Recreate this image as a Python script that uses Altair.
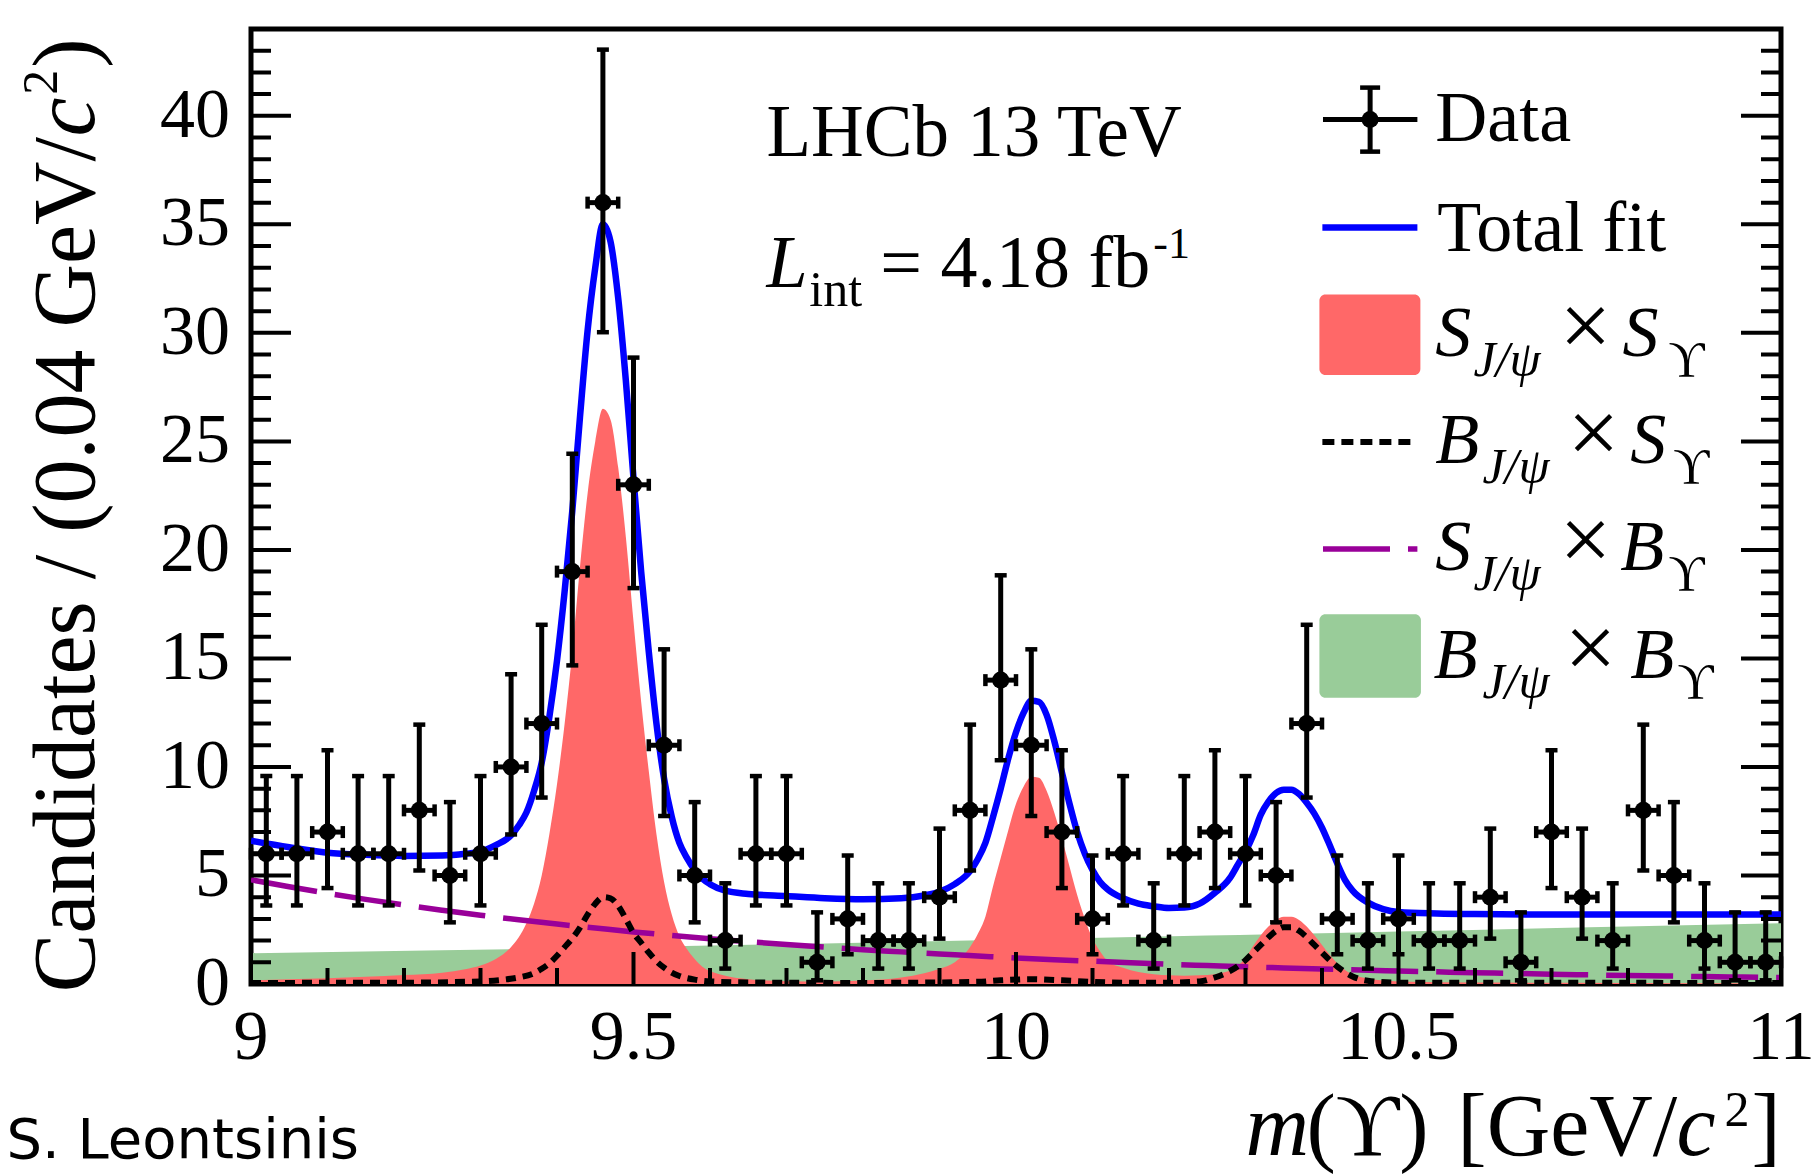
import altair as alt
import pandas as pd

# ---------------- chart values ----------------
BIN_START = 9.0
BIN_WIDTH = 0.04
counts = [6, 6, 7, 6, 6, 8, 5, 6, 10, 12,
          19, 36, 23, 11, 5, 2, 6, 6, 1, 3,
          2, 2, 4, 8, 14, 11, 7, 3, 6, 2,
          6, 7, 6, 5, 12, 3, 2, 3, 2, 2,
          4, 1, 7, 4, 2, 8, 5, 2, 1, 1]
err_low = [3.62, 3.62, 4.42, 3.62, 3.62, 5.23, 2.84, 3.62, 6.89, 8.59,
           14.68, 30.03, 18.24, 7.74, 2.84, 0.71, 3.62, 3.62, 0.17, 1.37,
           0.71, 0.71, 2.09, 5.23, 10.31, 7.74, 4.42, 1.37, 3.62, 0.71,
           3.62, 4.42, 3.62, 2.84, 8.59, 1.37, 0.71, 1.37, 0.71, 0.71,
           2.09, 0.17, 4.42, 2.09, 0.71, 5.23, 2.84, 0.71, 0.17, 0.17]
err_high = [9.58, 9.58, 10.77, 9.58, 9.58, 11.95, 8.38, 9.58, 14.27, 16.55,
            24.43, 43.05, 28.86, 15.42, 8.38, 4.64, 9.58, 9.58, 3.30, 5.92,
            4.64, 4.64, 7.16, 11.95, 18.83, 15.42, 10.77, 5.92, 9.58, 4.64,
            9.58, 10.77, 9.58, 8.38, 16.55, 5.92, 4.64, 5.92, 4.64, 4.64,
            7.16, 3.30, 10.77, 7.16, 4.64, 11.95, 8.38, 4.64, 3.30, 3.30]

total_x = [9.00, 9.05, 9.10, 9.15, 9.20, 9.25, 9.28, 9.30, 9.32, 9.34,
           9.35, 9.36, 9.37, 9.38, 9.39, 9.40, 9.41, 9.42, 9.43, 9.44,
           9.45, 9.46, 9.47, 9.48, 9.49, 9.50, 9.51, 9.52, 9.53, 9.54,
           9.55, 9.56, 9.57, 9.58, 9.59, 9.60, 9.62, 9.65, 9.70, 9.75,
           9.80, 9.85, 9.88, 9.90, 9.92, 9.94, 9.95, 9.96, 9.97, 9.98,
           9.99, 10.00, 10.01, 10.02, 10.03, 10.04, 10.05, 10.06, 10.07, 10.08,
           10.09, 10.10, 10.11, 10.12, 10.14, 10.16, 10.18, 10.20, 10.22, 10.24,
           10.26, 10.28, 10.29, 10.30, 10.31, 10.32, 10.33, 10.34, 10.35, 10.36,
           10.37, 10.38, 10.39, 10.40, 10.41, 10.42, 10.43, 10.44, 10.46, 10.48,
           10.50, 10.55, 10.60, 10.70, 10.80, 10.90, 11.00]
total_y = [6.6, 6.3, 6.05, 5.95, 5.9, 5.92, 6.0, 6.1, 6.4, 6.85,
           7.3, 7.9, 8.9, 10.2, 12.3, 14.9, 18.1, 21.8, 26.1, 30.1,
           33.0, 35.0, 34.2, 31.6, 27.8, 23.3, 19.0, 15.3, 12.0, 9.45,
           7.7, 6.5, 5.8, 5.25, 4.85, 4.6, 4.3, 4.15, 4.05, 3.95,
           3.9, 3.95, 4.08, 4.25, 4.6, 5.2, 5.75, 6.5, 7.7, 9.0,
           10.4, 11.6, 12.5, 13.05, 13.0, 12.4, 11.2, 9.75, 8.3, 7.0,
           6.0, 5.25, 4.7, 4.35, 3.95, 3.7, 3.58, 3.5, 3.52, 3.7,
           4.2, 4.9, 5.5, 6.1, 6.85, 7.8, 8.4, 8.8, 8.95, 8.95,
           8.75, 8.35, 7.85, 7.2, 6.4, 5.55, 4.8, 4.3, 3.75, 3.45,
           3.32, 3.25, 3.22, 3.2, 3.2, 3.2, 3.2]

ss_x = [9.00, 9.05, 9.10, 9.15, 9.20, 9.25, 9.28, 9.30, 9.32, 9.34,
        9.35, 9.36, 9.37, 9.38, 9.39, 9.40, 9.41, 9.42, 9.43, 9.44,
        9.45, 9.46, 9.47, 9.48, 9.49, 9.50, 9.51, 9.52, 9.53, 9.54,
        9.55, 9.56, 9.57, 9.58, 9.59, 9.60, 9.62, 9.65, 9.70, 9.75,
        9.80, 9.85, 9.88, 9.90, 9.92, 9.94, 9.95, 9.96, 9.97, 9.98,
        9.99, 10.00, 10.01, 10.02, 10.03, 10.04, 10.05, 10.06, 10.07, 10.08,
        10.09, 10.10, 10.11, 10.12, 10.14, 10.16, 10.18, 10.20, 10.22, 10.24,
        10.26, 10.27, 10.28, 10.29, 10.30, 10.31, 10.32, 10.33, 10.34, 10.35,
        10.36, 10.37, 10.38, 10.39, 10.40, 10.41, 10.42, 10.43, 10.44, 10.46,
        10.50, 10.60, 10.80, 11.00]
ss_y = [0.17, 0.22, 0.27, 0.33, 0.41, 0.52, 0.68, 0.85, 1.15, 1.7,
        2.15, 2.8, 3.7, 5.0, 6.9, 9.2, 12.0, 15.3, 19.2, 22.6,
        25.0, 26.5, 26.0, 23.8, 20.6, 16.7, 13.0, 9.8, 6.9, 4.7,
        3.2, 2.2, 1.6, 1.15, 0.8, 0.6, 0.38, 0.22, 0.13, 0.12,
        0.16, 0.3, 0.5, 0.7, 1.0, 1.7, 2.3, 3.1, 4.5, 5.8,
        7.1, 8.3, 9.1, 9.55, 9.5, 8.9, 7.9, 6.7, 5.4, 4.1,
        3.0, 2.1, 1.5, 1.05, 0.75, 0.55, 0.45, 0.4, 0.38, 0.4,
        0.45, 0.52, 0.62, 0.85, 1.2, 1.75, 2.25, 2.65, 2.95, 3.1,
        3.1, 2.95, 2.65, 2.25, 1.8, 1.35, 0.95, 0.65, 0.45, 0.25,
        0.12, 0.07, 0.05, 0.04]

bs_x = [9.00, 9.20, 9.30, 9.33, 9.35, 9.37, 9.38, 9.39, 9.40, 9.41,
        9.42, 9.43, 9.44, 9.45, 9.46, 9.47, 9.48, 9.49, 9.50, 9.51,
        9.52, 9.53, 9.54, 9.55, 9.56, 9.58, 9.60, 9.65, 9.80, 9.95,
        9.98, 10.02, 10.06, 10.10, 10.15, 10.20, 10.24, 10.26, 10.28, 10.30,
        10.31, 10.32, 10.33, 10.34, 10.35, 10.36, 10.37, 10.38, 10.39, 10.40,
        10.41, 10.42, 10.44, 10.46, 10.50, 11.00]
bs_y = [0.05, 0.06, 0.12, 0.2, 0.3, 0.5, 0.7, 0.95, 1.3, 1.7,
        2.1, 2.6, 3.2, 3.7, 4.0, 3.95, 3.6, 3.0, 2.35, 1.9,
        1.45, 1.05, 0.75, 0.52, 0.37, 0.2, 0.12, 0.07, 0.05, 0.1,
        0.17, 0.22, 0.17, 0.1, 0.06, 0.06, 0.12, 0.3, 0.6, 1.1,
        1.45, 1.8, 2.15, 2.45, 2.62, 2.62, 2.45, 2.15, 1.8, 1.45,
        1.1, 0.8, 0.35, 0.15, 0.06, 0.05]

sb_x = [9.00, 9.05, 9.10, 9.15, 9.20, 9.25, 9.30, 9.35, 9.40, 9.45,
        9.50, 9.55, 9.60, 9.65, 9.70, 9.75, 9.80, 9.85, 9.90, 9.95,
        10.00, 10.05, 10.10, 10.15, 10.20, 10.25, 10.30, 10.35, 10.40, 10.45,
        10.50, 10.55, 10.60, 10.65, 10.70, 10.75, 10.80, 10.85, 10.90, 10.95,
        11.00]
sb_y = [4.80, 4.48, 4.18, 3.90, 3.64, 3.40, 3.17, 2.96, 2.76, 2.58,
        2.40, 2.24, 2.09, 1.95, 1.82, 1.70, 1.58, 1.48, 1.38, 1.29,
        1.20, 1.12, 1.05, 0.98, 0.91, 0.85, 0.79, 0.74, 0.69, 0.64,
        0.60, 0.56, 0.52, 0.49, 0.45, 0.42, 0.39, 0.37, 0.34, 0.32,
        0.30]

bb_x = [9.00, 9.25, 9.50, 9.75, 10.00, 10.25, 10.50, 10.75, 11.00]
bb_y = [1.42, 1.55, 1.70, 1.87, 2.05, 2.23, 2.42, 2.61, 2.80]

x_tick_labels = [9, 9.5, 10, 10.5, 11]
x_tick_text = ["9", "9.5", "10", "10.5", "11"]
x_minor_ticks = [9.1, 9.2, 9.3, 9.4, 9.6, 9.7, 9.8, 9.9, 10.1, 10.2, 10.3, 10.4,
                 10.6, 10.7, 10.8, 10.9]
y_tick_labels = [0, 5, 10, 15, 20, 25, 30, 35, 40]
y_minor_ticks = [v for v in range(1, 44) if v % 5 != 0]

# ---------------- styles ----------------
SERIF = "Liberation Serif, Times New Roman, DejaVu Serif, serif"
BLUE = "#0000ff"
RED = "#ff6868"
GREEN = "#99cc99"
PURPLE = "#990099"
LBL = 70

assert len(total_x) == len(total_y)
assert len(ss_x) == len(ss_y)
assert len(bs_x) == len(bs_y)
assert len(sb_x) == len(sb_y)

xs = alt.Scale(domain=[9, 11], nice=False, zero=False)
ys = alt.Scale(domain=[0, 44], nice=False, zero=False)


def X(f):
    return alt.X(f, type="quantitative", scale=xs, axis=None)


def Y(f):
    return alt.Y(f, type="quantitative", scale=ys, axis=None)


centers = [round(BIN_START + BIN_WIDTH * (i + 0.5), 4) for i in range(len(counts))]
pts = pd.DataFrame({"x": centers, "n": counts, "lo": err_low, "hi": err_high})
pts["xl"] = pts["x"] - BIN_WIDTH / 2
pts["xh"] = pts["x"] + BIN_WIDTH / 2

layers = []

# B x B (green area)
layers.append(
    alt.Chart(pd.DataFrame({"x": bb_x, "y": bb_y}))
    .mark_area(color=GREEN, interpolate="monotone", clip=True)
    .encode(x=X("x"), y=Y("y"))
)
# S x S (red area)
layers.append(
    alt.Chart(pd.DataFrame({"x": ss_x, "y": ss_y}))
    .mark_area(color=RED, interpolate="monotone", clip=True)
    .encode(x=X("x"), y=Y("y"))
)
# S x B (purple dashed)
layers.append(
    alt.Chart(pd.DataFrame({"x": sb_x, "y": sb_y}))
    .mark_line(color=PURPLE, strokeWidth=5.5, strokeDash=[67, 18], interpolate="monotone", clip=True)
    .encode(x=X("x"), y=Y("y"))
)
# B x S (black dotted)
layers.append(
    alt.Chart(pd.DataFrame({"x": bs_x, "y": bs_y}))
    .mark_line(color="black", strokeWidth=6, strokeDash=[10, 7], interpolate="monotone", clip=True)
    .encode(x=X("x"), y=Y("y"))
)
# Total fit (blue)
layers.append(
    alt.Chart(pd.DataFrame({"x": total_x, "y": total_y}))
    .mark_line(color=BLUE, strokeWidth=6.5, interpolate="monotone", clip=True)
    .encode(x=X("x"), y=Y("y"))
)

# ---------- inner ticks (ROOT style) ----------
ytick_major = pd.DataFrame([{"x": e, "v": v} for e in (9, 11) for v in y_tick_labels])
ytick_minor = pd.DataFrame([{"x": e, "v": v} for e in (9, 11) for v in y_minor_ticks])
xtick_major = pd.DataFrame({"x": x_tick_labels, "v": 0})
xtick_minor = pd.DataFrame({"x": x_minor_ticks, "v": 0})
for df, size, orient in [(ytick_major, 80, "horizontal"), (ytick_minor, 40, "horizontal"),
                         (xtick_major, 64, "vertical"), (xtick_minor, 32, "vertical")]:
    layers.append(
        alt.Chart(df).mark_tick(orient=orient, size=size, thickness=4, color="black",
                                opacity=1, clip=True)
        .encode(x=X("x"), y=Y("v"))
    )

# ---------- tick labels ----------
layers.append(
    alt.Chart(pd.DataFrame({"x": x_tick_labels, "v": 0, "t": x_tick_text}))
    .mark_text(font=SERIF, fontSize=LBL, align="center", baseline="top", dy=20, color="black")
    .encode(x=X("x"), y=Y("v"), text="t:N")
)
layers.append(
    alt.Chart(pd.DataFrame({"x": 9, "v": y_tick_labels, "t": [str(v) for v in y_tick_labels]}))
    .mark_text(font=SERIF, fontSize=LBL, align="right", baseline="middle", dx=-21, color="black")
    .encode(x=X("x"), y=Y("v"), text="t:N")
)

# ---------- data points with error bars ----------
base = alt.Chart(pts)
layers.append(base.mark_rule(color="black", strokeWidth=5).encode(x=X("x"), y=Y("lo"), y2="hi"))
layers.append(base.mark_rule(color="black", strokeWidth=5).encode(x=X("xl"), x2="xh", y=Y("n")))
for f in ("lo", "hi"):
    layers.append(base.mark_tick(orient="horizontal", size=12, thickness=4.5, color="black", opacity=1)
                  .encode(x=X("x"), y=Y(f)))
for f in ("xl", "xh"):
    layers.append(base.mark_tick(orient="vertical", size=12, thickness=4.5, color="black", opacity=1)
                  .encode(x=X(f), y=Y("n")))
layers.append(base.mark_point(filled=True, shape="circle", size=290, color="black", opacity=1)
              .encode(x=X("x"), y=Y("n")))

# ---------- legend symbols (placed in data units) ----------
leg_rule = lambda df, **kw: alt.Chart(df).mark_rule(**kw).encode(x=X("x"), x2="x2", y=Y("y"))
layers.append(leg_rule(pd.DataFrame([{"x": 10.4013, "x2": 10.5247, "y": 39.83}]),
                       color="black", strokeWidth=5))
layers.append(alt.Chart(pd.DataFrame([{"x": 10.4629, "y": 38.35, "y2": 41.30}]))
              .mark_rule(color="black", strokeWidth=5).encode(x=X("x"), y=Y("y"), y2="y2"))
layers.append(alt.Chart(pd.DataFrame([{"x": 10.4629, "y": 38.35}, {"x": 10.4629, "y": 41.30}]))
              .mark_tick(orient="horizontal", size=20, thickness=4.5, color="black", opacity=1)
              .encode(x=X("x"), y=Y("y")))
layers.append(alt.Chart(pd.DataFrame([{"x": 10.4629, "y": 39.83}]))
              .mark_point(filled=True, shape="circle", size=290, color="black", opacity=1)
              .encode(x=X("x"), y=Y("y")))
layers.append(leg_rule(pd.DataFrame([{"x": 10.4005, "x2": 10.5247, "y": 34.85}]),
                       color=BLUE, strokeWidth=6.5))
layers.append(leg_rule(pd.DataFrame([{"x": 10.4005, "x2": 10.5221, "y": 24.97}]),
                       color="black", strokeWidth=6, strokeDash=[12, 7]))
layers.append(leg_rule(pd.DataFrame([{"x": 10.4013, "x2": 10.5247, "y": 20.04}]),
                       color=PURPLE, strokeWidth=5.5, strokeDash=[67, 18]))
for (x1, x2, y1, y2, col) in [(10.3966, 10.5286, 28.06, 31.77, RED),
                              (10.3966, 10.5293, 13.19, 17.04, GREEN)]:
    layers.append(alt.Chart(pd.DataFrame([{"x": x1, "x2": x2, "y": y1, "y2": y2}]))
                  .mark_rect(color=col, cornerRadius=6)
                  .encode(x=X("x"), x2="x2", y=Y("y"), y2="y2"))


# ---------- texts ----------
def text_layer(rows, size, style="normal", angle=0, font=SERIF, align="left"):
    df = pd.DataFrame(rows, columns=["x", "y", "t"])
    return (alt.Chart(df)
            .mark_text(font=font, fontSize=size, fontStyle=style, align=align,
                       baseline="alphabetic", angle=angle, color="black")
            .encode(x=X("x"), y=Y("y"), text="t:N"))


layers.append(text_layer([(9.6737, 38.16, "LHCb 13 TeV")], 73))
layers.append(text_layer([(9.8227, 32.12, "= 4.18 fb")], 74))
layers.append(text_layer([
    (10.5482, 38.82, "Data"),
    (10.5508, 33.79, "Total fit"),
], 72))
layers.append(text_layer([
    (10.7443, 28.94, "\u00d7"),
    (10.7547, 24.01, "\u00d7"),
    (10.7443, 19.07, "\u00d7"),
    (10.7508, 14.11, "\u00d7"),
], 92, align="center"))
layers.append(text_layer([(9.6737, 32.12, "L")], 74, style="italic"))
layers.append(text_layer([
    (10.5482, 28.94, "S"), (10.7927, 28.94, "S"),
    (10.5482, 24.01, "B"), (10.8031, 24.01, "S"),
    (10.5482, 19.07, "S"), (10.7900, 19.07, "B"),
    (10.5456, 14.11, "B"), (10.8031, 14.11, "B"),
], 72, style="italic"))
layers.append(text_layer([
    (9.7299, 31.245, "int"),
    (10.8528, 28.02, "\u03d2"),
    (10.8593, 23.08, "\u03d2"),
    (10.8528, 18.15, "\u03d2"),
    (10.8646, 13.19, "\u03d2"),
], 50))
layers.append(text_layer([
    (10.5979, 28.02, "J/\u03c8"),
    (10.6097, 23.08, "J/\u03c8"),
    (10.5979, 18.15, "J/\u03c8"),
    (10.6097, 13.19, "J/\u03c8"),
], 50, style="italic"))
layers.append(text_layer([(10.1795, 33.46, "-1")], 44))

# x-axis title  m(Y) [GeV/c^2]
layers.append(text_layer([(10.2999, -7.90, "m"), (10.8633, -7.90, "c")], 88, style="italic"))
layers.append(text_layer([(10.3796, -7.90, "(\u03d2)"), (10.5769, -7.90, "[GeV/"),
                          (10.9613, -7.90, "]")], 88))
layers.append(text_layer([(10.9260, -6.56, "2")], 50))

# y-axis title (rotated)
layers.append(text_layer([(8.7953, -0.383, "Candidates / (0.04 GeV/"),
                          (8.7953, 42.21, ")")], 88, angle=270))
layers.append(text_layer([(8.7953, 39.05, "c")], 88, style="italic", angle=270))
layers.append(text_layer([(8.7469, 40.97, "2")], 50, angle=270))

# signature
layers.append(text_layer([(8.6803, -8.0, "S. Leontsinis")], 56, font="DejaVu Sans"))

chart = (
    alt.layer(*layers)
    .properties(width=1530, height=955, background="white",
                padding={"left": 251, "top": 29, "right": 38, "bottom": 192},
                autosize=alt.AutoSizeParams(type="none"))
    .configure_view(stroke="black", strokeWidth=5)
)

chart.save("out.html", embed_options={"renderer": "svg", "actions": False})
